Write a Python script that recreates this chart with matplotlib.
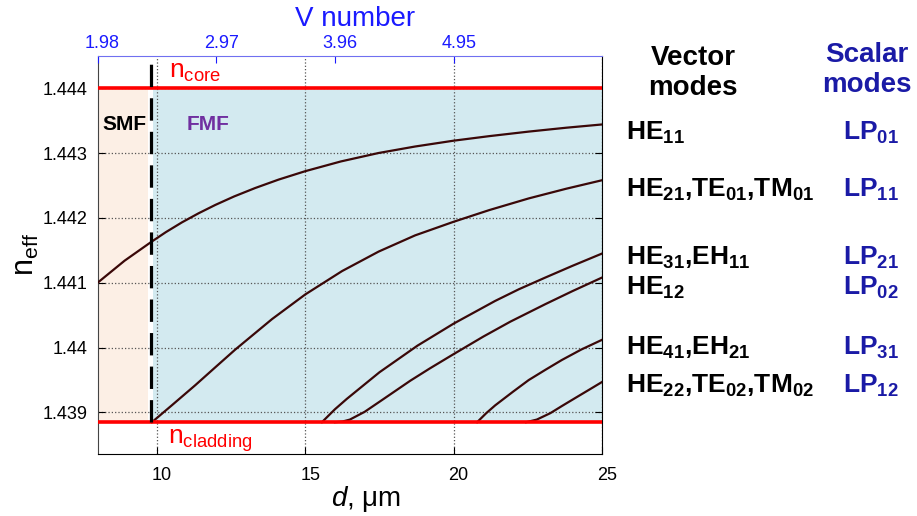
import matplotlib
matplotlib.use("Agg")
import matplotlib.pyplot as plt
import matplotlib.transforms as mtransforms

plt.rcParams['font.family'] = ['Liberation Sans', 'DejaVu Sans']
plt.rcParams['mathtext.fontset'] = 'custom'
plt.rcParams['mathtext.rm'] = 'Liberation Sans'
plt.rcParams['mathtext.it'] = 'Liberation Sans:italic'
plt.rcParams['mathtext.bf'] = 'Liberation Sans:bold'

# indices de refraccion
n_core = 1.444
n_clad = 1.43885
d_corte = 9.8  # diametro de corte monomodo (um)

# curvas n_eff(d)
lp01_d = [8.0, 8.91, 9.81, 10.3, 10.84, 11.4, 11.97, 12.6, 13.31, 14.1, 15.0,
          16.2, 17.47, 18.7, 20.0, 21.2, 22.53, 23.8, 25.0]
lp01_n = [1.44100, 1.44134, 1.44163, 1.44178, 1.44193, 1.44207, 1.44220, 1.44233, 1.44246, 1.44259, 1.44272,
          1.44287, 1.44300, 1.44310, 1.44319, 1.44326, 1.44333, 1.44339, 1.44344]

lp11_d = [9.83, 10.5, 11.29, 12.0, 12.64, 13.88, 15.0, 16.24, 17.47, 18.7, 20.0, 21.2, 22.53, 23.8, 25.0]
lp11_n = [1.43885, 1.43911, 1.43942, 1.43971, 1.43997, 1.44044, 1.44082, 1.44118, 1.44148, 1.44173,
          1.44194, 1.44212, 1.44230, 1.44245, 1.44258]

lp21_d = [15.56, 16.0, 16.4, 17.5, 18.78, 20.0, 21.4, 22.2, 23.09, 24.0, 25.0]
lp21_n = [1.43885, 1.43905, 1.43921, 1.43962, 1.44003, 1.44037, 1.44072, 1.44090, 1.44108, 1.44126, 1.44145]

lp02_d = [16.0, 16.25, 16.5, 17.0, 17.58, 18.54, 19.2, 20.0, 21.0, 21.91, 23.09, 24.0, 25.0]
lp02_n = [1.43885, 1.43886, 1.43889, 1.43901, 1.43919, 1.43949, 1.43968, 1.43990, 1.44017, 1.44040,
          1.44067, 1.44087, 1.44108]

lp31_d = [20.79, 21.1, 21.4, 22.0, 22.53, 23.1, 23.65, 24.3, 25.0]
lp31_n = [1.43885, 1.43899, 1.43911, 1.43932, 1.43950, 1.43966, 1.43981, 1.43997, 1.44012]

lp12_d = [22.44, 22.8, 23.26, 23.65, 24.16, 24.6, 25.0]
lp12_n = [1.43885, 1.43889, 1.43899, 1.43910, 1.43924, 1.43936, 1.43947]

curvas = [(lp01_d, lp01_n), (lp11_d, lp11_n), (lp21_d, lp21_n),
          (lp02_d, lp02_n), (lp31_d, lp31_n), (lp12_d, lp12_n)]

# ejes
x_ticks = [10, 15, 20, 25]
y_ticks = [1.439, 1.440, 1.441, 1.442, 1.443, 1.444]
y_tick_labels = ['1.439', '1.44', '1.441', '1.442', '1.443', '1.444']
v_ticks_d = [8, 12, 16, 20]
v_tick_labels = ['1.98', '2.97', '3.96', '4.95']

# etiquetas de modos (vectoriales, escalares, linea base en px)
C = r'\mathbf{{,}}'
modos_vec = [r'$\mathbf{HE}_{\mathbf{11}}$',
             r'$\mathbf{HE}_{\mathbf{21}}' + C + r'\mathbf{TE}_{\mathbf{01}}' + C + r'\mathbf{TM}_{\mathbf{01}}$',
             r'$\mathbf{HE}_{\mathbf{31}}' + C + r'\mathbf{EH}_{\mathbf{11}}$',
             r'$\mathbf{HE}_{\mathbf{12}}$',
             r'$\mathbf{HE}_{\mathbf{41}}' + C + r'\mathbf{EH}_{\mathbf{21}}$',
             r'$\mathbf{HE}_{\mathbf{22}}' + C + r'\mathbf{TE}_{\mathbf{02}}' + C + r'\mathbf{TM}_{\mathbf{02}}$']
modos_esc = [r'$\mathbf{LP}_{\mathbf{01}}$', r'$\mathbf{LP}_{\mathbf{11}}$',
             r'$\mathbf{LP}_{\mathbf{21}}$', r'$\mathbf{LP}_{\mathbf{02}}$',
             r'$\mathbf{LP}_{\mathbf{31}}$', r'$\mathbf{LP}_{\mathbf{12}}$']
base_px = [140, 197, 265, 295, 355, 393]

W, H = 917, 516
fig = plt.figure(figsize=(W / 100, H / 100), dpi=100)
ax = fig.add_axes([97.6 / W, 1 - 454 / H, (602 - 97.6) / W, (454 - 55.7) / H])

ax.set_xlim(8, 25)
ax.set_ylim(1.43836, 1.4445)

# zonas SMF / FMF
ax.fill_between([8, 9.70], n_clad, n_core, color='#fcefe5', lw=0, zorder=0)
ax.fill_between([9.88, 25], n_clad, n_core, color='#d3eaf0', lw=0, zorder=0)

ax.grid(True, linestyle=':', color='#555555', linewidth=0.9)
ax.set_axisbelow(True)

for d, n in curvas:
    ax.plot(d, n, color='#3a0808', lw=1.6, zorder=3)

ax.axhline(n_core, color='red', lw=2.6, zorder=4)
ax.axhline(n_clad, color='red', lw=2.6, zorder=4)
ax.plot([d_corte, d_corte], [n_clad, 1.4445], color='black', lw=2.3,
        dashes=(7, 3.5), zorder=5, clip_on=False)

ax.text(10.41, 1.44416, r'n$_{\mathrm{core}}$', color='red', fontsize=19)
ax.text(10.37, 1.43852, r'n$_{\mathrm{cladding}}$', color='red', fontsize=19)
ax.text(8.15, 1.44335, 'SMF', fontsize=15, fontweight='bold', color='black')
ax.text(11.01, 1.44335, 'FMF', fontsize=15, fontweight='bold', color='#7030a0')

ax.set_xticks(x_ticks)
ax.set_yticks(y_ticks)
ax.set_yticklabels(y_tick_labels)
ax.tick_params(direction='in', length=5, labelsize=13, right=True, top=False, pad=7)
ax.tick_params(axis='x', pad=9)
ax.spines['top'].set_visible(False)
ax.spines['left'].set_color('#444444')

ax.set_xlabel(r'$d$, μm', fontsize=20)
ax.xaxis.set_label_coords(0.532, -0.075)
ax.set_ylabel(r'n$_{\mathrm{eff}}$', fontsize=22)
ax.yaxis.set_label_coords(-0.112, 0.5)

# eje superior: numero V
ax2 = ax.twiny()
ax2.set_xlim(8, 25)
ax2.set_xticks(v_ticks_d)
ax2.set_xticklabels(v_tick_labels)
ax2.tick_params(direction='in', length=5, labelsize=13, colors='#1a1aff', pad=3)
for s in ['left', 'right', 'bottom']:
    ax2.spines[s].set_visible(False)
ax2.spines['top'].set_color('#7070f0')
ax2.set_xlabel('V number', fontsize=20, color='#1a1aff')
ax2.xaxis.set_label_coords(0.51, 1.075)

desplaza = mtransforms.ScaledTranslation(5 / 100, 0, fig.dpi_scale_trans)
for lab in ax.get_xticklabels() + ax2.get_xticklabels():
    lab.set_transform(lab.get_transform() + desplaza)

# columnas de modos a la derecha
fig.text(693 / W, 1 - 65 / H, 'Vector', fontsize=20, fontweight='bold', ha='center', va='baseline')
fig.text(693 / W, 1 - 95 / H, 'modes', fontsize=20, fontweight='bold', ha='center', va='baseline')
fig.text(867 / W, 1 - 62 / H, 'Scalar', fontsize=20, fontweight='bold', ha='center', va='baseline', color='#1a1aa6')
fig.text(867 / W, 1 - 92 / H, 'modes', fontsize=20, fontweight='bold', ha='center', va='baseline', color='#1a1aa6')

for vec, esc, y in zip(modos_vec, modos_esc, base_px):
    fig.text(626 / W, 1 - y / H, vec, fontsize=19, va='baseline', ha='left')
    fig.text(843 / W, 1 - y / H, esc, fontsize=19, va='baseline', ha='left', color='#1a1aa6')

fig.savefig('out.png', dpi=100)
